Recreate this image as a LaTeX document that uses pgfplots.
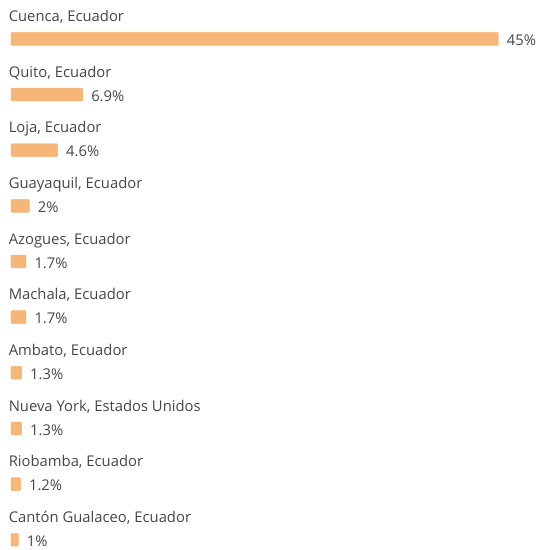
\documentclass[border=0pt]{standalone}
\usepackage{pgfplots}
\pgfplotsset{compat=1.18}
\usepackage{fontspec}
\setmainfont{Open Sans}
\definecolor{barc}{RGB}{246,182,120}
\definecolor{txt}{RGB}{70,70,70}
\begin{document}
\begin{tikzpicture}[x=1bp,y=1bp]
\begin{axis}[
  scale only axis, width=531bp, height=550bp,
  enlargelimits=false,
  xmin=0.32, xmax=48.86,
  ymin=-0.699, ymax=9.158, y dir=reverse,
  hide axis, clip mode=individual,
  xbar, bar width=13bp, bar shift=0pt,
  nodes near coords, point meta=explicit symbolic,
  every node near coord/.append style={anchor=west, xshift=5bp, yshift=-1.5bp, text=txt, font=\fontsize{14.9}{16}\selectfont},
]
\path (axis cs:-0.686,-0.699) rectangle (axis cs:48.86,9.158);
\addplot[fill=barc, draw=barc, rounded corners=1bp] coordinates {
 (45,0) [45\%]
 (6.9,1) [6.9\%]
 (4.6,2) [4.6\%]
 (2,3) [2\%]
 (1.7,4) [1.7\%]
 (1.7,5) [1.7\%]
 (1.3,6) [1.3\%]
 (1.3,7) [1.3\%]
 (1.2,8) [1.2\%]
 (1,9) [1\%]
};
\foreach \lab [count=\i from 0] in {{Cuenca, Ecuador},{Quito, Ecuador},{Loja, Ecuador},{Guayaquil, Ecuador},{Azogues, Ecuador},{Machala, Ecuador},{Ambato, Ecuador},{Nueva York, Estados Unidos},{Riobamba, Ecuador},{Cantón Gualaceo, Ecuador}}{
  \edef\temp{\noexpand\node[anchor=base west, inner sep=0pt, text=txt, font=\noexpand\fontsize{14.9}{16}\noexpand\selectfont] at (axis cs:0.1,\i-0.31) {\lab};}
  \temp
}
\end{axis}
\end{tikzpicture}
\end{document}
